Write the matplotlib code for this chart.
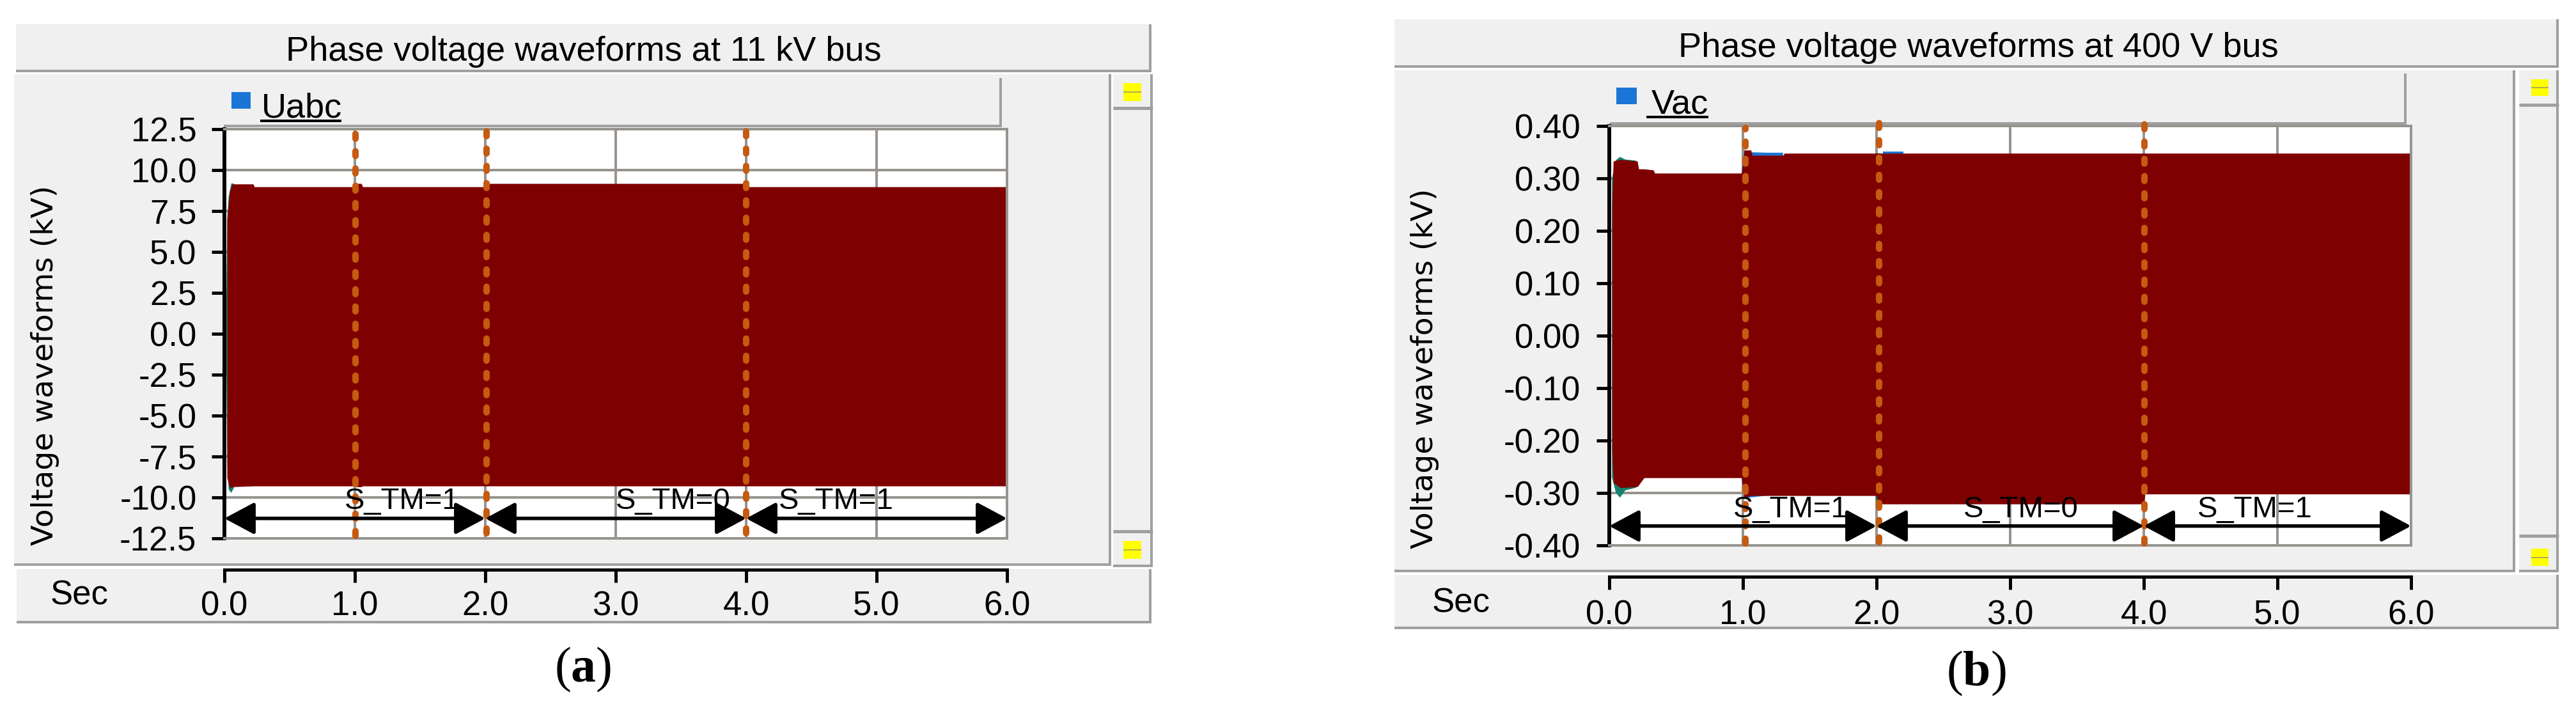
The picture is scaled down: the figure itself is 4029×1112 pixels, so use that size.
import numpy as np
import matplotlib
matplotlib.use('Agg')
import matplotlib.pyplot as plt
from matplotlib.patches import Rectangle, FancyArrowPatch
from matplotlib.lines import Line2D

plt.rcParams['font.family'] = ['Liberation Sans', 'DejaVu Sans']
plt.rcParams['mathtext.fontset'] = 'custom'
plt.rcParams['mathtext.rm'] = 'Liberation Serif'
plt.rcParams['mathtext.bf'] = 'Liberation Serif:bold'

nan = np.nan

# ---------------- data ----------------
# (a) 11 kV bus, envelope of the three phase voltages (kV)
t_a = [0.02, 0.04, 0.06, 0.22, 0.23, 1.00, 1.01, 1.05, 1.06, 2.00, 2.01, 4.00, 4.01, 6.00]
up_a = [7.0, 8.7, 9.15, 9.15, 8.98, 8.98, 9.18, 9.18, 8.98, 8.98, 9.18, 9.18, 8.98, 8.98]
lo_a = [-8.8, -9.4, -9.35, -9.3, -9.3, -9.3, -9.35, -9.35, -9.3, -9.3, -9.3, -9.3, -9.3, -9.3]
teal_t_a = [0.012, 0.02, 0.03, 0.05, 0.07]
teal_up_a = [2.0, 7.2, 8.4, 9.2, 9.2]
teal_lo_a = [-2.0, -8.0, -9.5, -9.7, -9.4]
yt_a = [12.5, 10.0, 7.5, 5.0, 2.5, 0.0, -2.5, -5.0, -7.5, -10.0, -12.5]
ylab_a = ['12.5', '10.0', '7.5', '5.0', '2.5', '0.0', '-2.5', '-5.0', '-7.5', '-10.0', '-12.5']
sw_t_a = [1.005, 2.01, 4.0]
sw_lo_a = [-12.35, -12.2, -12.2]
sw_hi_a = [12.5, 12.85, 12.85]
arrow_y_a = -11.28
lab_t_a = [1.36, 3.44, 4.69]
lab_y_a = -10.72

# (b) 400 V bus
t_b = [0.02, 0.03, 0.08, 0.21, 0.22, 0.26, 0.33, 0.34, 0.99, 1.01, 1.06, 1.07, 1.30, 1.31,
       2.00, 2.01, 4.00, 4.01, 6.00]
up_b = [0.25, 0.333, 0.336, 0.333, 0.318, 0.318, 0.316, 0.31, 0.31, 0.354, 0.354, 0.344, 0.344,
        0.348, 0.348, 0.348, 0.348, 0.348, 0.348]
lo_b = [-0.22, -0.28, -0.29, -0.288, -0.285, -0.271, -0.271, -0.271, -0.271, -0.309, -0.305,
        -0.305, -0.305, -0.305, -0.305, -0.321, -0.321, -0.302, -0.302]
# small overshoots of the other phases (NaN separates the pieces)
teal_t_b = [0.02, 0.05, 0.08, 0.12, 0.20, nan, 1.99, 2.01, 2.03]
teal_up_b = [0.30, 0.335, 0.341, 0.336, 0.334, nan, 0.348, 0.348, 0.348]
teal_lo_b = [-0.27, -0.30, -0.309, -0.295, -0.29, nan, -0.305, -0.329, -0.321]
blue_t_b = [0.99, 1.01, 1.04, 1.18, 1.30, nan, 2.05, 2.20]
blue_up_b = [0.31, 0.354, 0.35, 0.349, 0.349, nan, 0.351, 0.351]
blue_lo_b = [-0.271, -0.312, -0.309, -0.305, -0.305, nan, -0.321, -0.321]
yt_b = [0.40, 0.30, 0.20, 0.10, 0.00, -0.10, -0.20, -0.30, -0.40]
ylab_b = ['0.40', '0.30', '0.20', '0.10', '0.00', '-0.10', '-0.20', '-0.30', '-0.40']
sw_t_b = [1.02, 2.02, 4.005]
sw_lo_b = [-0.396, -0.394, -0.396]
sw_hi_b = [0.396, 0.408, 0.405]
arrow_y_b = -0.363
lab_t_b = [1.36, 3.08, 4.83]
lab_y_b = -0.346

xt = [0, 1, 2, 3, 4, 5, 6]
xlab = ['0.0', '1.0', '2.0', '3.0', '4.0', '5.0', '6.0']
spans = [(0, 2), (2, 4), (4, 6)]
lab_txt = ['S_TM=1', 'S_TM=0', 'S_TM=1']

# ---------------- styling ----------------
W, H = 4030, 1112
BG = '#f0f0f0'
EDGE = '#a0a0a0'
GRID = '#979490'
MAROON = '#7f0000'
TEAL = '#17806c'
BLUE = '#1a75d6'
ORANGE = '#c55a11'
PT = 0.72  # points per pixel at dpi 100

fig = plt.figure(figsize=(W / 100, H / 100), dpi=100)
fig.patch.set_facecolor('white')


def fx(x):
    return x / W


def fy(y):
    return 1 - y / H


def rect(x0, y0, x1, y1, fc, z=-3):
    fig.add_artist(Rectangle((fx(x0), fy(y1)), (x1 - x0) / W, (y1 - y0) / H,
                             transform=fig.transFigure, fc=fc, ec='none', zorder=z))


def seg(x0, y0, x1, y1, px, c=EDGE, z=-2):
    fig.add_artist(Line2D([fx(x0), fx(x1)], [fy(y0), fy(y1)], transform=fig.transFigure,
                          lw=px * PT, color=c, solid_capstyle='butt', zorder=z))


def frame(x0, y0, x1, y1):
    # sunken-look panel: fill + gray right/bottom edges
    rect(x0, y0, x1, y1, BG)
    seg(x0, y1 - 2, x1, y1 - 2, 4)
    seg(x1 - 2, y0, x1 - 2, y1, 4)


def draw_panel(L, t, up, lo, extra, yt, ylab, ylim, sw_t, sw_lo, sw_hi, arrow_y, lab_t, lab_y,
               title, legend, tag, ypad, xpad):
    frame(*L['title'])
    frame(*L['box'])
    frame(*L['leg'])
    frame(*L['scroll'])
    sx0, sy0, sx1, sy1 = L['scroll']
    seg(sx0, L['up'], sx1, L['up'], 5)
    seg(sx0, L['dn'], sx1, L['dn'], 5)
    for ix0, iy0, ix1, iy1 in L['icons']:
        rect(ix0, iy0, ix1, iy1, '#ffff00', z=-1)
        seg(ix0, (iy0 + iy1) / 2, ix1, (iy0 + iy1) / 2, 2, c='#b0b050', z=-0.5)
    frame(*L['strip'])

    # title, legend entry, y label, Sec, tag
    fig.text(fx(L['title_xy'][0]), fy(L['title_xy'][1]), title, ha='center', va='baseline',
             fontsize=39)
    rect(*L['sq'], BLUE, z=-1)
    fig.text(fx(L['leg_xy'][0]), fy(L['leg_xy'][1]), legend, ha='left', va='baseline', fontsize=39)
    ux0, ux1, uy = L['uline']
    seg(ux0, uy, ux1, uy, 4, c='black', z=1)
    fig.text(fx(L['ylab'][0]), fy(L['ylab'][1]), 'Voltage waveforms (kV)', rotation=90,
             ha='center', va='center', fontsize=34, family='DejaVu Sans')
    fig.text(fx(L['sec'][0]), fy(L['sec'][1]), 'Sec', ha='center', va='baseline', fontsize=38)
    fig.text(fx(L['tag'][0]), fy(L['tag'][1]), tag, ha='center', va='center', fontsize=56)

    # main plot
    ax0, ay0, ax1, ay1 = L['ax']
    ax = fig.add_axes([fx(ax0), fy(ay1), (ax1 - ax0) / W, (ay1 - ay0) / H])
    ax.set_facecolor('white')
    ax.set_xlim(0, 6)
    ax.set_ylim(*ylim)
    ax.set_axisbelow(True)
    ax.set_xticks(xt)
    ax.set_yticks(yt, ylab)
    ax.grid(True, color=GRID, lw=4 * PT)
    ax.tick_params(axis='x', length=0, labelbottom=False)
    ax.tick_params(axis='y', direction='out', length=20 * PT, width=5 * PT, pad=ypad,
                   labelsize=38, color='black')
    for s in ['top', 'right', 'bottom']:
        ax.spines[s].set_color(GRID)
        ax.spines[s].set_linewidth(4 * PT)
    ax.spines['left'].set_color('black')
    ax.spines['left'].set_linewidth(6 * PT)

    for (et, eu, el, ec) in extra:
        ax.fill_between(et, el, eu, color=ec, lw=0, zorder=1)
    ax.fill_between(t, lo, up, color=MAROON, lw=0, zorder=1.5)

    for st, slo, shi in zip(sw_t, sw_lo, sw_hi):
        ax.plot([st, st], [slo, shi], color=ORANGE, lw=10 * PT, ls=(0, (0.75, 1.95)),
                dash_capstyle='round', clip_on=False, zorder=3)

    for (a, b) in spans:
        ax.add_patch(FancyArrowPatch((a, arrow_y), (b, arrow_y),
                                     arrowstyle='<|-|>,head_length=29,head_width=15.5',
                                     mutation_scale=1, lw=4, color='black', shrinkA=0,
                                     shrinkB=0, clip_on=False, zorder=4))
    for lt, txt in zip(lab_t, lab_txt):
        ax.text(lt, lab_y, txt, ha='center', va='baseline', fontsize=34, zorder=5)

    # separate time axis strip
    xl = L['xline']
    axx = fig.add_axes([fx(ax0), fy(xl), (ax1 - ax0) / W, 1 / H])
    axx.set_facecolor('none')
    axx.set_xlim(0, 6)
    axx.set_xticks(xt, xlab)
    axx.set_yticks([])
    for s in ['top', 'left', 'right']:
        axx.spines[s].set_visible(False)
    axx.spines['bottom'].set_linewidth(5 * PT)
    axx.tick_params(axis='x', direction='out', length=20 * PT, width=5 * PT, pad=xpad,
                    labelsize=38)
    return ax


LA = dict(title=(25, 38, 1801, 113), box=(22, 116, 1738, 885), leg=(350, 122, 1567, 199),
          scroll=(1741, 116, 1803, 887), up=169, dn=831,
          icons=[(1757, 130, 1785, 158), (1757, 846, 1785, 874)],
          strip=(26, 890, 1801, 975), ax=(351, 202, 1575, 842), xline=891,
          sq=(362, 144, 392, 170), leg_xy=(409, 183), uline=(407, 534, 189),
          title_xy=(913, 95), ylab=(71, 571), sec=(124, 945), tag=(912, 1047))
LB = dict(title=(2181, 30, 4002, 106), box=(2181, 110, 3934, 895), leg=(2518, 115, 3764, 195),
          scroll=(3940, 110, 4002, 895), up=164, dn=838,
          icons=[(3959, 124, 3986, 150), (3959, 858, 3986, 885)],
          strip=(2181, 899, 4002, 984), ax=(2517, 197, 3771, 853), xline=902,
          sq=(2528, 137, 2560, 163), leg_xy=(2583, 178), uline=(2575, 2672, 183),
          title_xy=(3094, 89), ylab=(2229, 576), sec=(2285, 957), tag=(3091, 1053))

draw_panel(LA, t_a, up_a, lo_a, [(teal_t_a, teal_up_a, teal_lo_a, TEAL)], yt_a, ylab_a,
           (-12.5, 12.5), sw_t_a, sw_lo_a, sw_hi_a, arrow_y_a, lab_t_a, lab_y_a,
           'Phase voltage waveforms at 11 kV bus', 'Uabc', r'$\mathrm{(}\mathbf{a}\mathrm{)}$',
           ypad=17, xpad=9)
draw_panel(LB, t_b, up_b, lo_b, [(teal_t_b, teal_up_b, teal_lo_b, TEAL),
                                 (blue_t_b, blue_up_b, blue_lo_b, BLUE)], yt_b, ylab_b,
           (-0.40, 0.40), sw_t_b, sw_lo_b, sw_hi_b, arrow_y_b, lab_t_b, lab_y_b,
           'Phase voltage waveforms at 400 V bus', 'Vac', r'$\mathrm{(}\mathbf{b}\mathrm{)}$',
           ypad=18, xpad=11)

fig.savefig('out.png', dpi=100)
